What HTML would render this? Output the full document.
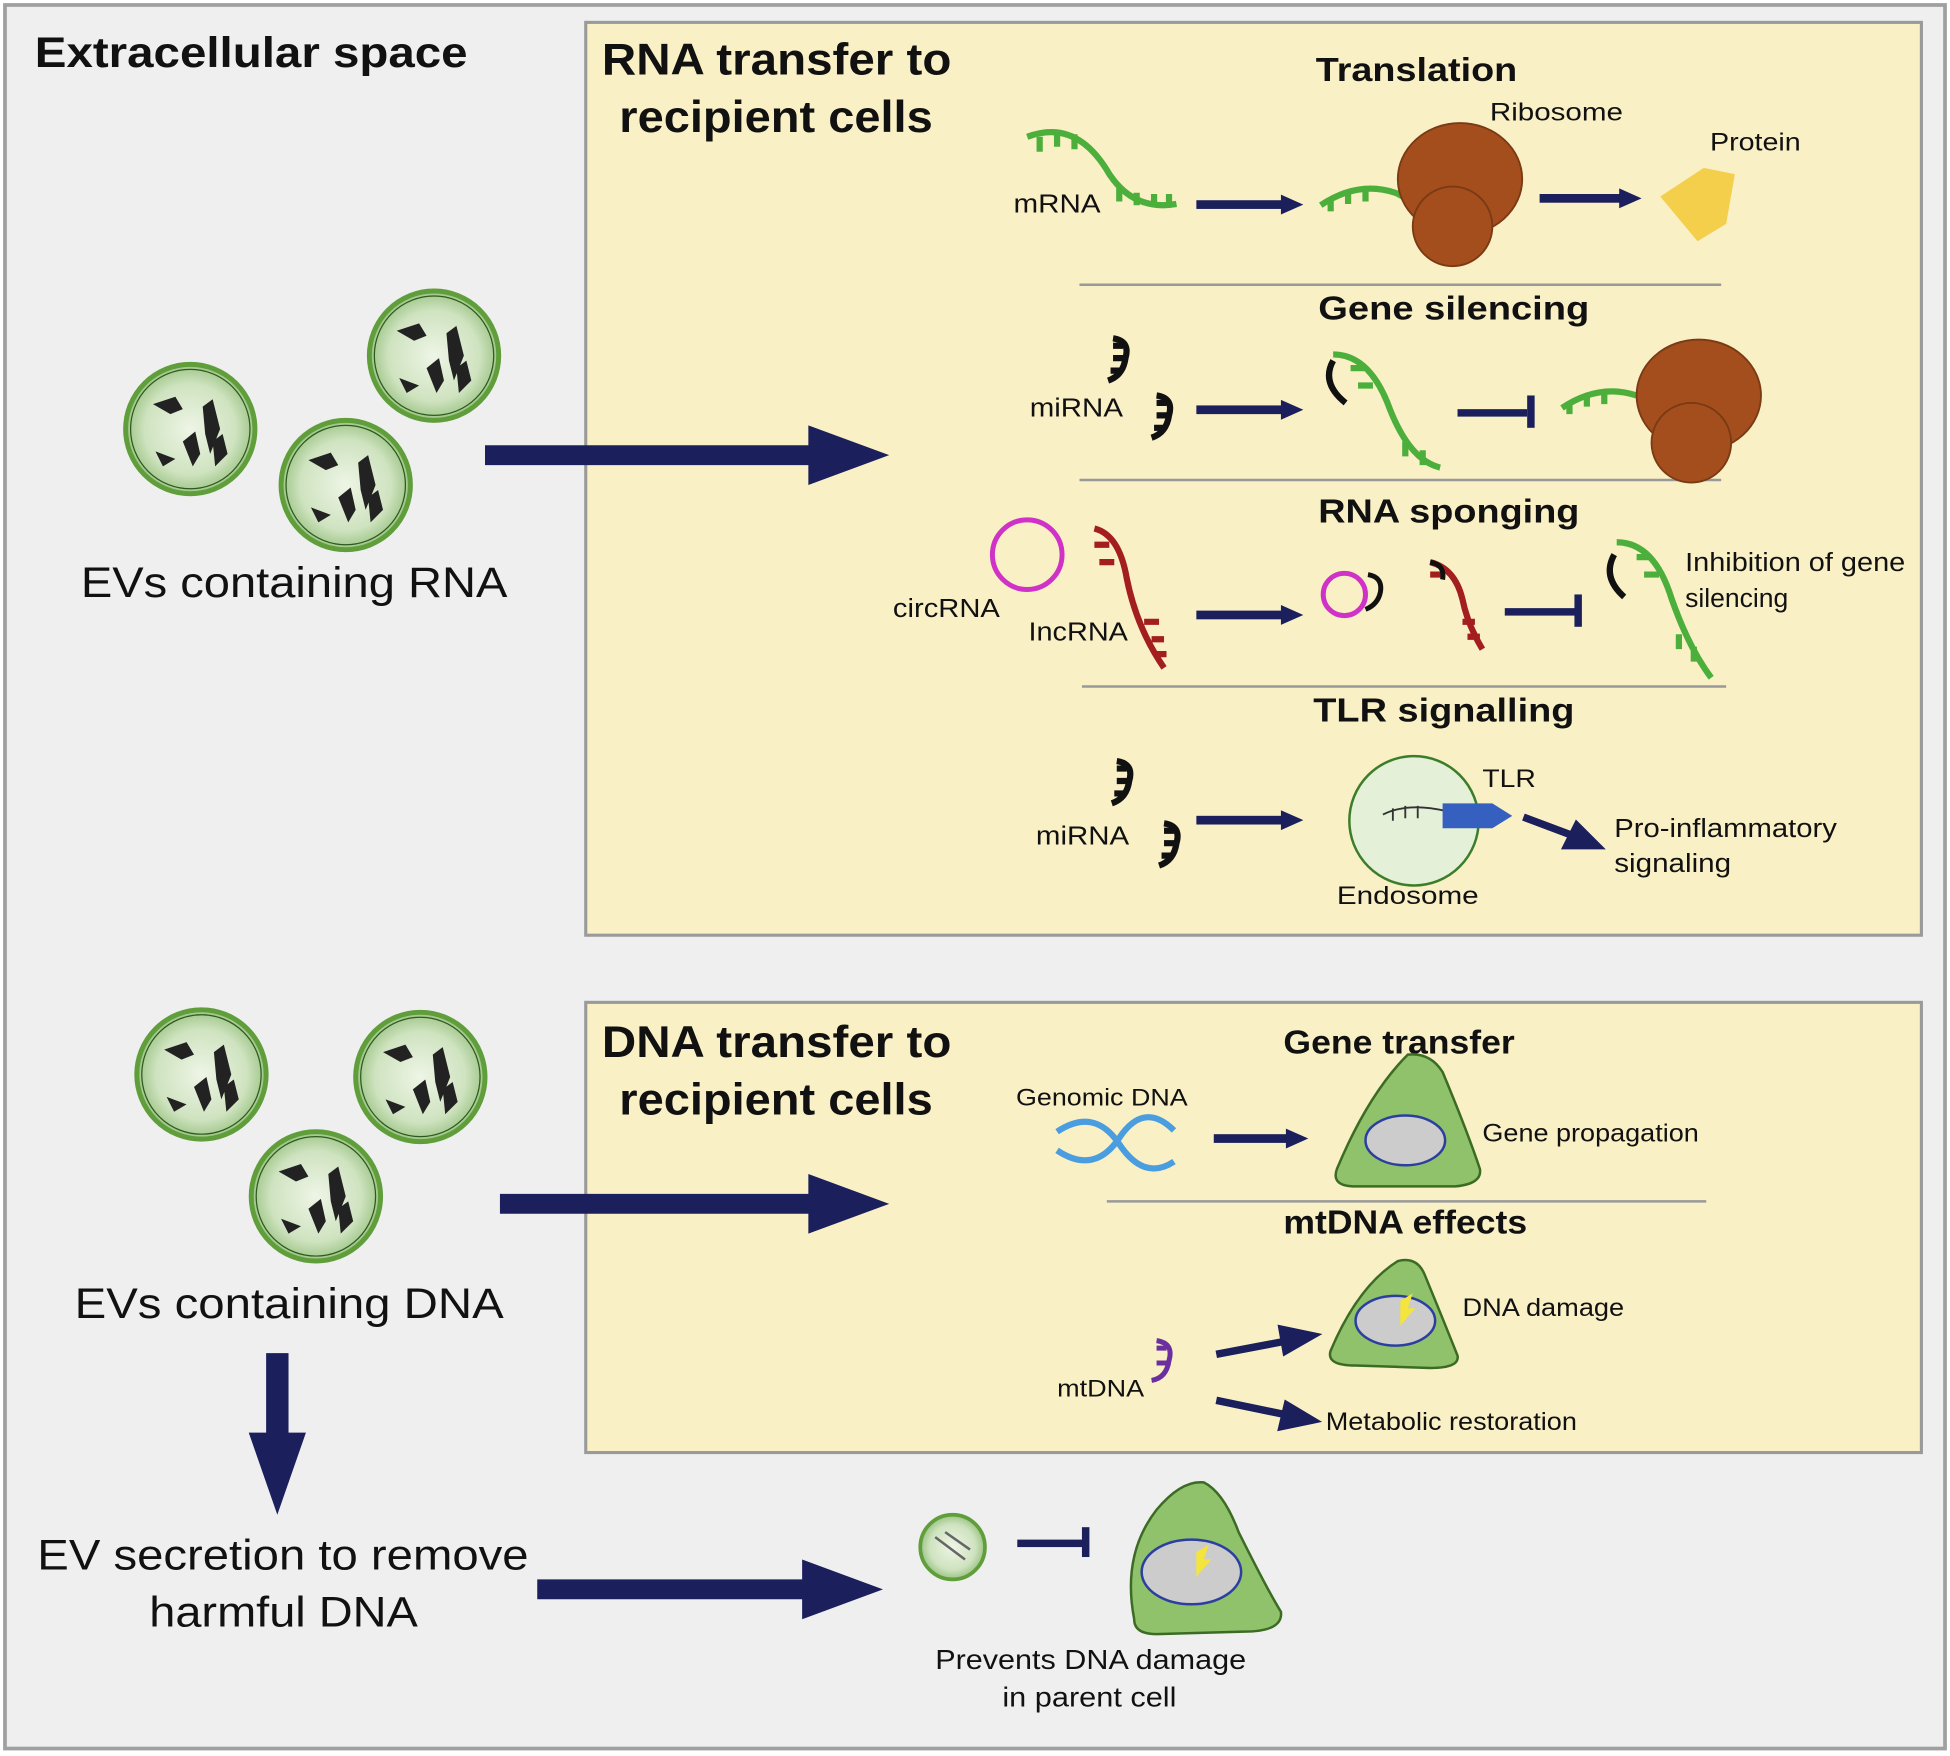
<!DOCTYPE html>
<html><head><meta charset="utf-8"><style>
html,body{margin:0;padding:0;background:#fff}
svg{display:block}
text{font-family:"Liberation Sans",sans-serif;fill:#111}
.b{font-weight:bold}
</style></head><body>
<svg width="1950" height="1756" viewBox="0 0 1568 1412" preserveAspectRatio="none" xmlns="http://www.w3.org/2000/svg">
<defs>
<radialGradient id="ev" cx="0.5" cy="0.5" r="0.5">
<stop offset="0" stop-color="#eef5e6"/><stop offset="0.7" stop-color="#cfe3c0"/><stop offset="1" stop-color="#9cc485"/>
</radialGradient>
<g id="evc">
<circle r="52" fill="url(#ev)" stroke="#5f9e3a" stroke-width="4"/>
<circle r="48" fill="none" stroke="#2d5a1e" stroke-width="1"/>
<path d="M-30,-20 l18,-6 l6,10 l-10,4 z M10,-18 l8,-6 l6,24 l-8,20 l-4,-16 z M-28,18 l16,6 l-10,6 z M-6,10 l10,-8 l4,18 l-6,10 z M18,10 l8,-6 l4,16 l-10,10 z" fill="#222"/>
</g>
<g id="mirna" fill="none" stroke="#111" stroke-width="5">
<path d="M0,0 q14,2 10,16 q-2,14 -14,18"/>
<path d="M8,6 h-8 M10,16 h-10 M6,26 h-8"/>
</g>
<path id="ah" d="M0,-8 L18,0 L0,8 z"/>
</defs>
<rect x="0" y="0" width="1568" height="1412" fill="#fff"/>
<rect x="4" y="4" width="1560" height="1402" fill="#efefef" stroke="#a0a0a0" stroke-width="3"/>
<rect x="471" y="18" width="1074" height="734" fill="#f9f0c6" stroke="#9a9a9a" stroke-width="2.5"/>
<rect x="471" y="806" width="1074" height="362" fill="#f9f0c6" stroke="#9a9a9a" stroke-width="2.5"/>

<g lengthAdjust="spacingAndGlyphs">
<text x="28" y="54" class="b" font-size="34" textLength="348" lengthAdjust="spacingAndGlyphs">Extracellular space</text>
<text x="484" y="60" class="b" font-size="36" textLength="281" lengthAdjust="spacingAndGlyphs">RNA transfer to</text>
<text x="498" y="106" class="b" font-size="36" textLength="252" lengthAdjust="spacingAndGlyphs">recipient cells</text>
<text x="484" y="850" class="b" font-size="36" textLength="281" lengthAdjust="spacingAndGlyphs">DNA transfer to</text>
<text x="498" y="896" class="b" font-size="36" textLength="252" lengthAdjust="spacingAndGlyphs">recipient cells</text>
</g>

<!-- EVs RNA -->
<use href="#evc" x="153" y="345"/>
<use href="#evc" x="349" y="286"/>
<use href="#evc" x="278" y="390"/>
<text x="65" y="480" font-size="34" textLength="343" lengthAdjust="spacingAndGlyphs">EVs containing RNA</text>
<!-- EVs DNA -->
<use href="#evc" x="162" y="864"/>
<use href="#evc" x="338" y="866"/>
<use href="#evc" x="254" y="962"/>
<text x="60" y="1060" font-size="34" textLength="345" lengthAdjust="spacingAndGlyphs">EVs containing DNA</text>
<text x="30" y="1262" font-size="34" textLength="395" lengthAdjust="spacingAndGlyphs">EV secretion to remove</text>
<text x="120" y="1308" font-size="34" textLength="216" lengthAdjust="spacingAndGlyphs">harmful DNA</text>

<!-- big arrows -->
<g fill="#1b1f5c">
<path d="M390,358 H650 V342 L715,366 L650,390 V374 H390 z"/>
<path d="M402,960 H650 V944 L715,968 L650,992 V976 H402 z"/>
<path d="M432,1270 H645 V1254 L710,1278 L645,1302 V1286 H432 z"/>
<path d="M214,1088 V1152 H200 L223,1218 L246,1152 H232 V1088 z"/>
</g>

<!-- section titles -->
<text x="1058" y="65" class="b" font-size="27" textLength="162" lengthAdjust="spacingAndGlyphs">Translation</text>
<text x="1060" y="257" class="b" font-size="27" textLength="218" lengthAdjust="spacingAndGlyphs">Gene silencing</text>
<text x="1060" y="420" class="b" font-size="27" textLength="210" lengthAdjust="spacingAndGlyphs">RNA sponging</text>
<text x="1056" y="580" class="b" font-size="27" textLength="210" lengthAdjust="spacingAndGlyphs">TLR signalling</text>
<text x="1032" y="847" class="b" font-size="27" textLength="186" lengthAdjust="spacingAndGlyphs">Gene transfer</text>
<text x="1032" y="992" class="b" font-size="27" textLength="196" lengthAdjust="spacingAndGlyphs">mtDNA effects</text>
<g stroke="#999" stroke-width="2">
<line x1="868" y1="229" x2="1384" y2="229"/>
<line x1="868" y1="386" x2="1384" y2="386"/>
<line x1="870" y1="552" x2="1388" y2="552"/>
<line x1="890" y1="966" x2="1372" y2="966"/>
</g>

<!-- translation -->
<g fill="none" stroke="#4caf3c" stroke-width="5">
<path d="M826,110 q40,-15 66,30 q20,30 54,24"/>
<path d="M836,110 v12 M850,106 v12 M864,108 v12 M900,150 v12 M914,155 v10 M928,156 v10 M940,156 v8"/>
<path d="M1062,165 q30,-20 60,-10 q14,6 20,18"/>
<path d="M1070,160 v10 M1084,154 v10 M1098,152 v10"/>
<path d="M1256,328 q30,-20 60,-10 q14,6 20,18"/>
<path d="M1262,323 v10 M1276,317 v10 M1290,315 v10"/>
</g>
<text x="815" y="171" font-size="21" textLength="70" lengthAdjust="spacingAndGlyphs">mRNA</text>
<g fill="#a44e1e" stroke="#7a3a14" stroke-width="1.5">
<ellipse cx="1174" cy="144" rx="50" ry="45"/>
<circle cx="1168" cy="182" r="32"/>
<ellipse cx="1366" cy="318" rx="50" ry="45"/>
<circle cx="1360" cy="356" r="32"/>
</g>
<text x="1198" y="97" font-size="20" textLength="107" lengthAdjust="spacingAndGlyphs">Ribosome</text>
<text x="1375" y="121" font-size="20" textLength="73" lengthAdjust="spacingAndGlyphs">Protein</text>
<path d="M1335,158 L1370,135 L1395,140 L1388,180 L1365,194 z" fill="#f4cf4c"/>
<g fill="#1b1f5c">
<rect x="962" y="161" width="70" height="7"/><use href="#ah" x="1030" y="164.5"/>
<rect x="1238" y="156" width="66" height="7"/><use href="#ah" x="1302" y="159.5"/>
<rect x="962" y="326" width="70" height="7"/><use href="#ah" x="1030" y="329.5"/>
<rect x="1172" y="329" width="56" height="6"/><rect x="1228" y="318" width="6" height="26"/>
<rect x="962" y="491" width="70" height="7"/><use href="#ah" x="1030" y="494.5"/>
<rect x="1210" y="489" width="60" height="6"/><rect x="1266" y="478" width="6" height="26"/>
<rect x="962" y="656" width="70" height="7"/><use href="#ah" x="1030" y="659.5"/>
<rect x="976" y="912" width="60" height="7"/><use href="#ah" x="1034" y="915.5"/>
<rect x="818" y="1238" width="54" height="6"/><rect x="870" y="1228" width="6" height="24"/>
</g>
<g stroke="#1b1f5c" stroke-width="6" fill="#1b1f5c">
<line x1="1225" y1="657" x2="1265" y2="672"/><path d="M1284,680 L1260,680 L1268,664 z"/>
<line x1="978" y1="1089" x2="1036" y2="1078"/><path d="M1055,1074 L1034,1086 L1031,1069 z"/>
<line x1="978" y1="1126" x2="1036" y2="1138"/><path d="M1055,1142 L1031,1147 L1035,1130 z"/>
</g>

<!-- gene silencing -->
<text x="828" y="335" font-size="21" textLength="75" lengthAdjust="spacingAndGlyphs">miRNA</text>
<use href="#mirna" x="895" y="272"/>
<use href="#mirna" x="930" y="318"/>
<g fill="none" stroke="#4caf3c" stroke-width="5">
<path d="M1072,285 q30,0 46,45 q16,40 40,46"/>
<path d="M1086,296 h12 M1092,310 h12 M1130,355 v12 M1144,362 v12"/>
</g>
<path d="M1072,290 q-10,18 10,34" fill="none" stroke="#111" stroke-width="5"/>

<!-- sponging -->
<circle cx="826" cy="446" r="28" fill="none" stroke="#d032c8" stroke-width="4"/>
<text x="718" y="496" font-size="21" textLength="86" lengthAdjust="spacingAndGlyphs">circRNA</text>
<text x="827" y="515" font-size="21" textLength="80" lengthAdjust="spacingAndGlyphs">IncRNA</text>
<g fill="none" stroke="#a31e1e" stroke-width="5">
<path d="M880,425 q20,5 26,40 q8,40 30,72"/>
<path d="M880,438 h12 M884,452 h12 M920,500 h12 M926,514 h10 M930,526 h8"/>
<path d="M1150,452 q20,5 26,30 q4,20 16,40"/>
<path d="M1150,462 h10 M1176,500 h10 M1180,512 h10"/>
</g>
<circle cx="1081" cy="478" r="17" fill="none" stroke="#d032c8" stroke-width="4"/>
<path d="M1100,462 q12,2 10,14 q-2,10 -12,14 M1150,452 q12,2 10,14" fill="none" stroke="#111" stroke-width="4"/>
<g fill="none" stroke="#4caf3c" stroke-width="5">
<path d="M1300,436 q30,0 44,45 q14,40 32,64"/>
<path d="M1316,448 h12 M1322,462 h12 M1350,510 v12 M1362,520 v12"/>
</g>
<path d="M1298,446 q-10,18 8,34" fill="none" stroke="#111" stroke-width="5"/>
<text x="1355" y="459" font-size="21" textLength="177" lengthAdjust="spacingAndGlyphs">Inhibition of gene</text>
<text x="1355" y="488" font-size="21" textLength="83" lengthAdjust="spacingAndGlyphs">silencing</text>

<!-- TLR -->
<text x="833" y="679" font-size="21" textLength="75" lengthAdjust="spacingAndGlyphs">miRNA</text>
<use href="#mirna" x="898" y="612"/>
<use href="#mirna" x="936" y="662"/>
<circle cx="1137" cy="660" r="52" fill="#e4f0d8" stroke="#3c7d2a" stroke-width="2"/>
<path d="M1112,655 q20,-10 50,-3 M1120,650 v10 M1130,648 v10 M1140,648 v10" fill="none" stroke="#333" stroke-width="1.5"/>
<path d="M1160,646 h40 l16,10 l-16,10 h-40 z" fill="#3660c0"/>
<text x="1192" y="633" font-size="20" textLength="43" lengthAdjust="spacingAndGlyphs">TLR</text>
<text x="1075" y="727" font-size="20" textLength="114" lengthAdjust="spacingAndGlyphs">Endosome</text>
<text x="1298" y="673" font-size="21" textLength="179" lengthAdjust="spacingAndGlyphs">Pro-inflammatory</text>
<text x="1298" y="701" font-size="21" textLength="94" lengthAdjust="spacingAndGlyphs">signaling</text>

<!-- gene transfer -->
<text x="817" y="889" font-size="19" textLength="138" lengthAdjust="spacingAndGlyphs">Genomic DNA</text>
<path d="M850,910 q30,-20 50,10 q20,30 44,14 M850,925 q30,20 50,-10 q20,-30 44,-6" fill="none" stroke="#4a9ee0" stroke-width="5"/>
<path d="M1075,940 Q1100,880 1132,848 Q1150,846 1160,862 Q1180,910 1190,940 Q1192,952 1170,954 L1090,954 Q1070,954 1075,940 z" fill="#8fc26a" stroke="#3c6b24" stroke-width="2"/>
<ellipse cx="1130" cy="917" rx="32" ry="20" fill="#ccc" stroke="#2c3fa0" stroke-width="2"/>
<text x="1192" y="918" font-size="20" textLength="174" lengthAdjust="spacingAndGlyphs">Gene propagation</text>

<!-- mtDNA -->
<path d="M1070,1086 Q1092,1034 1124,1014 Q1140,1010 1146,1026 Q1160,1060 1172,1090 Q1174,1100 1150,1100 L1090,1098 Q1066,1098 1070,1086 z" fill="#8fc26a" stroke="#3c6b24" stroke-width="2"/>
<ellipse cx="1122" cy="1062" rx="32" ry="20" fill="#ccc" stroke="#2c3fa0" stroke-width="2"/>
<path d="M1126,1046 l10,-6 l-4,12 l6,0 l-12,14 z" fill="#f4e43c"/>
<text x="1176" y="1058" font-size="20" textLength="130" lengthAdjust="spacingAndGlyphs">DNA damage</text>
<path d="M930,1078 q14,2 10,16 q-2,14 -14,16 M938,1084 h-8 M940,1096 h-10" fill="none" stroke="#6b2fa0" stroke-width="4"/>
<text x="850" y="1123" font-size="19" textLength="70" lengthAdjust="spacingAndGlyphs">mtDNA</text>
<text x="1066" y="1150" font-size="20" textLength="202" lengthAdjust="spacingAndGlyphs">Metabolic restoration</text>

<!-- bottom -->
<circle cx="766" cy="1244" r="26" fill="url(#ev)" stroke="#5f9e3a" stroke-width="3"/>
<path d="M752,1236 l24,18 M760,1232 l20,14" stroke="#666" stroke-width="2"/>
<path d="M912,1302 Q902,1250 930,1214 Q950,1190 968,1192 Q984,1200 996,1232 Q1020,1280 1030,1296 Q1032,1312 1000,1312 L930,1314 Q912,1314 912,1302 z" fill="#8fc26a" stroke="#3c6b24" stroke-width="2"/>
<ellipse cx="958" cy="1264" rx="40" ry="26" fill="#ccc" stroke="#2c3fa0" stroke-width="2"/>
<path d="M962,1248 l10,-6 l-4,12 l6,0 l-12,14 z" fill="#f4e43c"/>
<text x="752" y="1342" font-size="22" textLength="250" lengthAdjust="spacingAndGlyphs">Prevents DNA damage</text>
<text x="806" y="1372" font-size="22" textLength="140" lengthAdjust="spacingAndGlyphs">in parent cell</text>
</svg>
</body></html>
